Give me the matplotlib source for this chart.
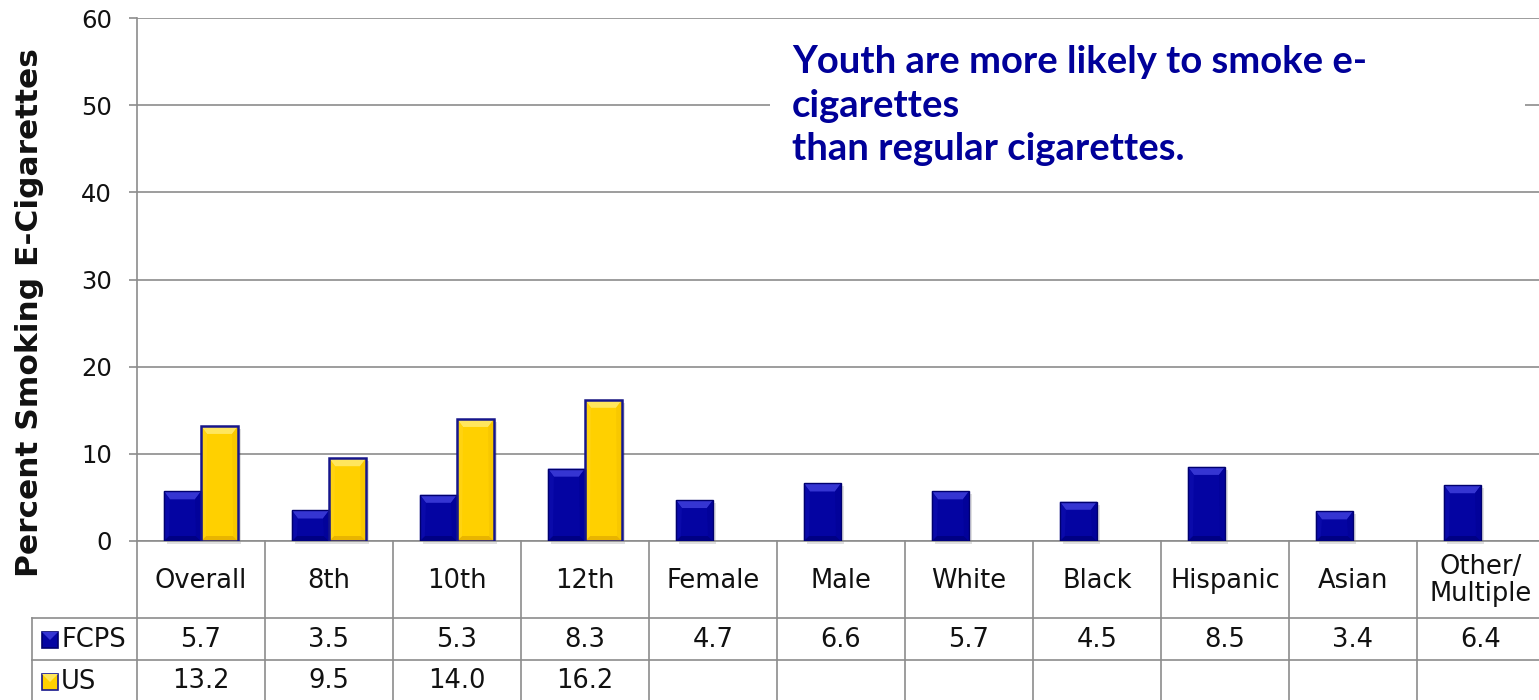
import matplotlib
matplotlib.use("Agg")
import matplotlib.pyplot as plt
from matplotlib.patches import Polygon, Rectangle
from matplotlib.transforms import blended_transform_factory
import numpy as np

# ---- data -------------------------------------------------------------
categories = ["Overall", "8th", "10th", "12th", "Female", "Male", "White",
              "Black", "Hispanic", "Asian", "Other/\nMultiple"]
fcps = [5.7, 3.5, 5.3, 8.3, 4.7, 6.6, 5.7, 4.5, 8.5, 3.4, 6.4]
us = [13.2, 9.5, 14.0, 16.2, None, None, None, None, None, None, None]
series_names = ["FCPS", "US"]
yticks = [0, 10, 20, 30, 40, 50, 60]
ylabel = "Percent Smoking E-Cigarettes"
callout = "Youth are more likely to smoke e-\ncigarettes\nthan regular cigarettes."

# ---- style ------------------------------------------------------------
W, H = 1539, 700
GRID = "#8c8c8c"
FONT = "DejaVu Sans"
TXT = "#111111"
blue_face, blue_top, blue_bot, blue_side_l, blue_side_r, blue_edge = (
    "#0404a2", "#3535d2", "#000084", "#0a0aaa", "#02029a", "#00006e")
yel_face, yel_top, yel_bot, yel_side_l, yel_side_r, yel_edge = (
    "#ffd000", "#ffe65e", "#e8b400", "#ffd310", "#f8c800", "#16168c")

fig = plt.figure(figsize=(W / 100, H / 100), dpi=100)
ax_left, ax_right = 137, 137 + 128 * len(categories)
ax_top, ax_bot = 18, 541
ax = fig.add_axes([ax_left / W, 1 - ax_bot / H, (ax_right - ax_left) / W,
                   (ax_bot - ax_top) / H])

x = np.arange(len(categories))
bw = 0.29
fcps_vals = np.array(fcps, dtype=float)
us_vals = np.array([np.nan if v is None else v for v in us], dtype=float)

ax.set_xlim(-0.5, len(categories) - 0.5)
ax.set_ylim(0, 60)
ax.set_yticks(yticks)
ax.yaxis.grid(True, color=GRID, linewidth=1.2)
ax.set_axisbelow(True)
ax.set_xticks([])
for s in ["top", "right"]:
    ax.spines[s].set_visible(False)
for s in ["left", "bottom"]:
    ax.spines[s].set_color(GRID)
    ax.spines[s].set_linewidth(1.2)
ax.tick_params(axis="y", length=6, width=1.2, color=GRID, pad=12,
               labelsize=17.5, labelcolor=TXT)
for lab in ax.get_yticklabels():
    lab.set_fontfamily(FONT)

# px -> data unit conversions for the bevel size
px_x = 1.0 / 128
px_y = 60.0 / (ax_bot - ax_top)


def bevel(patch, face, top, bot, side_l, side_r, edge, elw):
    x0, y0 = patch.get_x(), patch.get_y()
    w, h = patch.get_width(), patch.get_height()
    if not np.isfinite(h) or h <= 0:
        return
    x1, y1 = x0 + w, y0 + h
    bx = min(6 * px_x, w / 2)
    by = min(8 * px_y, h / 2)
    bbx = min(5 * px_x, w / 2)
    bby = min(5 * px_y, h / 2)
    # soft shadow
    ax.add_patch(Rectangle((x0 + 3 * px_x, y0 - 3 * px_y), w, h,
                           facecolor="#000000", alpha=0.12, zorder=2.5,
                           linewidth=0, clip_on=False))
    patch.set_facecolor(face)
    patch.set_zorder(3)
    patch.set_linewidth(0)
    polys = [
        ([(x0, y1), (x1, y1), (x1 - bx, y1 - by), (x0 + bx, y1 - by)], top),
        ([(x0, y0), (x1, y0), (x1 - bbx, y0 + bby), (x0 + bbx, y0 + bby)], bot),
        ([(x0, y0), (x0 + bbx, y0 + bby), (x0 + bx, y1 - by), (x0, y1)], side_l),
        ([(x1, y0), (x1 - bbx, y0 + bby), (x1 - bx, y1 - by), (x1, y1)], side_r),
    ]
    for pts, c in polys:
        ax.add_patch(Polygon(pts, closed=True, facecolor=c, edgecolor="none",
                             zorder=3.2))
    ax.add_patch(Rectangle((x0, y0), w, h, facecolor="none", edgecolor=edge,
                           linewidth=elw, zorder=3.5))


bars_f = ax.bar(x - bw / 2, fcps_vals, bw)
bars_u = ax.bar(x + bw / 2, np.nan_to_num(us_vals), bw)
for p in bars_f:
    bevel(p, blue_face, blue_top, blue_bot, blue_side_l, blue_side_r,
          blue_edge, 1.0)
for p, v in zip(bars_u, us_vals):
    if np.isfinite(v):
        bevel(p, yel_face, yel_top, yel_bot, yel_side_l, yel_side_r,
              yel_edge, 1.8)
    else:
        p.set_visible(False)

# ---- data table under the axis ------------------------------------------
tr = blended_transform_factory(ax.transData, fig.transFigure)


def fy(py):
    return 1 - py / H


row_cat, row_f, row_u, row_end = 541, 618, 660, 702
label_left = -0.5 - 105 * px_x
right_end = len(categories) - 0.5
lk = dict(color=GRID, linewidth=1.2, transform=tr, clip_on=False, zorder=1)
for b in np.arange(-0.5, len(categories) + 0.5, 1.0):
    fig.add_artist(plt.Line2D([b, b], [fy(row_cat), fy(row_end)], **lk))
fig.add_artist(plt.Line2D([label_left, label_left], [fy(row_f), fy(row_end)], **lk))
for yy in [row_f, row_u]:
    fig.add_artist(plt.Line2D([label_left, right_end], [fy(yy), fy(yy)], **lk))

tk = dict(transform=tr, ha="center", va="center", fontsize=18.5,
          family=FONT, color=TXT)
for i, c in enumerate(categories):
    fig.text(i, fy((row_cat + row_f) / 2 + 1), c, linespacing=1.05, **tk)
    fig.text(i, fy((row_f + row_u) / 2 + 1), f"{fcps[i]:.1f}", **tk)
    if us[i] is not None:
        fig.text(i, fy((row_u + row_end) / 2), f"{us[i]:.1f}", **tk)

# legend keys in the row headers
key_x = label_left + 10 * px_x
kw, kh = 16 * px_x, 16 / H
for name, yy, face, top, bot, edge in [
        (series_names[0], (row_f + row_u) / 2, blue_face, blue_top, blue_bot, blue_edge),
        (series_names[1], (row_u + row_end) / 2, yel_face, yel_top, yel_bot, yel_edge)]:
    yc = fy(yy + 1)
    fig.add_artist(Rectangle((key_x, yc - kh / 2), kw, kh, transform=tr,
                             facecolor=face, edgecolor=edge, linewidth=1.2,
                             clip_on=False))
    fig.add_artist(Polygon([(key_x, yc + kh / 2), (key_x + kw, yc + kh / 2),
                            (key_x + kw / 2, yc)], closed=True, transform=tr,
                           facecolor=top, edgecolor="none", clip_on=False))
    fig.text(key_x + kw + 3 * px_x, yc, name, transform=tr, ha="left",
             va="center", fontsize=18.5, family=FONT, color=TXT)

# ---- axis title and callout ---------------------------------------------
fig.text(30 / W, fy(313), ylabel, rotation=90, ha="center", va="center",
         fontsize=22.5, fontweight="bold", family=FONT, color=TXT)

fig.add_artist(Rectangle((770 / W, fy(186)), (1525 - 770) / W, (186 - 30) / H,
                         transform=fig.transFigure, facecolor="white",
                         edgecolor="none", zorder=4))
fig.text(792 / W, fy(45), callout, ha="left", va="top", fontsize=27.5,
         fontweight="bold", family="Lato", color="#000099", linespacing=1.34,
         zorder=5)

fig.savefig("out.png", dpi=100)
